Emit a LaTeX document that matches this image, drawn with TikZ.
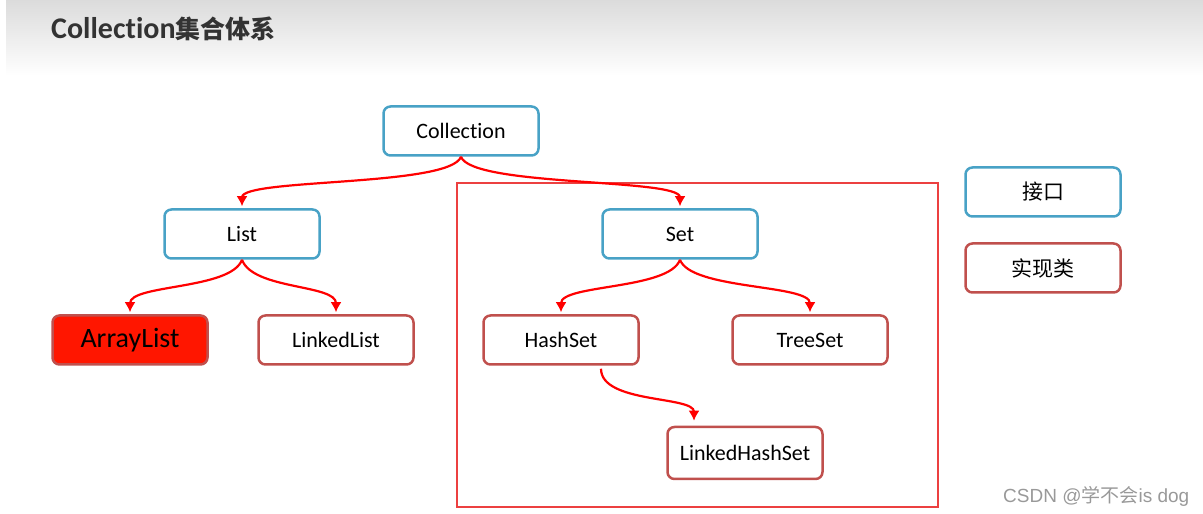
\documentclass[tikz,border=0pt]{standalone}
\usepackage{fontspec}
\setmainfont{Carlito}[RawFeature=-liga]
\newfontfamily\cjk{Noto Sans CJK SC}
\newfontfamily\wmfont{Liberation Sans}
\usetikzlibrary{arrows.meta}
\definecolor{ifaceblue}{RGB}{72,162,198}
\definecolor{implred}{RGB}{192,80,77}
\definecolor{framered}{RGB}{236,64,64}
\definecolor{fillred}{RGB}{255,22,0}

\begin{document}
\begin{tikzpicture}[x=1pt, y=1pt,
  box/.style={rounded corners=7pt, line width=2.5pt, minimum width=155pt,
    minimum height=49pt, inner sep=0pt, fill=white, font=\fontsize{22}{26}\selectfont},
  iface/.style={box, draw=ifaceblue},
  impl/.style={box, draw=implred},
  legend/.style={font=\cjk\fontsize{21}{25}\selectfont},
  link/.style={draw=red, line width=2.2pt, -{Latex[length=10pt,width=11pt]},
    shorten >=2pt, out distance=32pt, in distance=30pt}]

  \useasboundingbox (0,0) rectangle (1203,514);
  \shade[top color=black!14, bottom color=white] (6,438) rectangle (1203,514);
  \node[anchor=base west, inner sep=0pt, text=black!80, font=\fontsize{30}{34}\selectfont\bfseries] (T) at (51,475)
    {Collection{\cjk\fontsize{25}{30}\selectfont 集合体系}};

  \draw[framered, line width=1.5pt] (457,7) rectangle (938,331);

  \node[iface] (Coll) at (461,383) {Collection};
  \node[iface] (List) at (242,280) {List};
  \node[iface] (Set) at (680,280) {Set};

  \node[impl, fill=fillred, font=\fontsize{28}{32}\selectfont] (AL) at (130,174) {ArrayList};
  \node[impl] (LL) at (336,174) {LinkedList};
  \node[impl] (HS) at (561,174) {HashSet};
  \node[impl] (TS) at (810,174) {TreeSet};
  \node[impl, minimum height=52pt] (LHS) at (745,61) {LinkedHashSet};

  \node[iface, legend] (I) at (1043,322) {接口};
  \node[impl, legend] (R) at (1043,246) {实现类};

  \draw[link] (Coll.south) to[out=-110, in=90] (List.north);
  \draw[link] (Coll.south) to[out=-70, in=90] (Set.north);
  \draw[link] (List.south) to[out=-110, in=90] (AL.north);
  \draw[link] (List.south) to[out=-70, in=90] (LL.north);
  \draw[link] (Set.south) to[out=-110, in=90] (HS.north);
  \draw[link] (Set.south) to[out=-70, in=90] (TS.north);
  \draw[link, shorten <=3pt, shorten >=5pt, out distance=38pt] ([xshift=40pt]HS.south) to[out=-90, in=90] ([xshift=-51pt]LHS.north);

  \node[anchor=base west, inner sep=0pt, text=black!40, font=\wmfont\fontsize{19}{23}\selectfont] (W) at (1003,11)
    {CSDN @{\cjk 学不会}is dog};
\end{tikzpicture}
\end{document}
